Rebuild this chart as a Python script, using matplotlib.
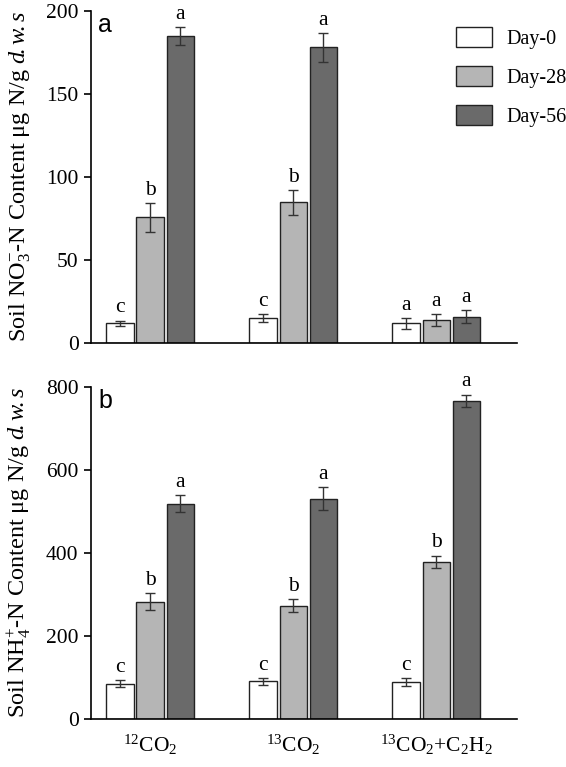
import matplotlib
matplotlib.use("Agg")
import matplotlib.pyplot as plt
import numpy as np

plt.rcParams['font.family'] = ['Liberation Serif', 'DejaVu Serif']
plt.rcParams['mathtext.fontset'] = 'custom'
plt.rcParams['mathtext.rm'] = 'Liberation Serif'
plt.rcParams['mathtext.it'] = 'Liberation Serif:italic'
plt.rcParams['mathtext.bf'] = 'Liberation Serif:bold'

categories = [r'$^{12}$CO$_2$', r'$^{13}$CO$_2$', r'$^{13}$CO$_2$+C$_2$H$_2$']
series = ['Day-0', 'Day-28', 'Day-56']
colors = ['#ffffff', '#b5b5b5', '#6a6a6a']

no3_vals = [[11.8, 14.9, 11.8], [75.7, 84.7, 13.9], [185.0, 178.0, 15.7]]
no3_err = [[1.6, 2.4, 3.2], [8.6, 7.5, 3.6], [5.3, 8.8, 3.9]]
no3_letters = [['c', 'c', 'a'], ['b', 'b', 'a'], ['a', 'a', 'a']]

nh4_vals = [[85, 91, 89], [283, 273, 379], [519, 531, 767]]
nh4_err = [[9, 8, 9], [20, 16, 14.5], [20, 28, 14.5]]
nh4_letters = [['c', 'c', 'c'], ['b', 'b', 'b'], ['a', 'a', 'a']]

fig = plt.figure(figsize=(5.66, 7.67), dpi=100)
ax1 = fig.add_axes([0.1608, 0.5528, 0.7527, 0.4329])
ax2 = fig.add_axes([0.1608, 0.0626, 0.7527, 0.4329])

x = np.arange(len(categories))
width = 0.19
offsets = [-0.21, 0.0, 0.21]

def draw(ax, vals, errs, letters, ymax, step, gap):
    handles = []
    for i in range(3):
        b = ax.bar(x + offsets[i], vals[i], width, color=colors[i], edgecolor='#222222',
                   linewidth=1.0, yerr=errs[i], capsize=3.5,
                   error_kw=dict(ecolor='#333333', elinewidth=1.0, capthick=1.0),
                   label=series[i], zorder=2)
        handles.append(b)
        for j in range(3):
            ax.text(x[j] + offsets[i], vals[i][j] + errs[i][j] + gap, letters[i][j],
                    ha='center', va='bottom', fontsize=15.5)
    ax.set_xlim(-0.413, 2.566)
    ax.set_ylim(0, ymax)
    ax.set_yticks(np.arange(0, ymax + 1, step))
    for s in ['top', 'right']:
        ax.spines[s].set_visible(False)
    for s in ['left', 'bottom']:
        ax.spines[s].set_linewidth(1.2)
    ax.tick_params(axis='y', direction='out', length=5, width=1.2, labelsize=15.5, pad=4)
    ax.tick_params(axis='x', length=0, labelsize=15.5, pad=10)
    return handles

h = draw(ax1, no3_vals, no3_err, no3_letters, 200, 50, 2)
draw(ax2, nh4_vals, nh4_err, nh4_letters, 800, 200, 8)

ax1.set_xticks([])
ax2.set_xticks(x)
ax2.set_xticklabels(categories)

ax1.set_ylabel(r'Soil NO$_3^{-}$-N Content μg N/g $d\!.w\!.s$', fontsize=17.5)
ax2.set_ylabel(r'Soil NH$_4^{+}$-N Content μg N/g $d\!.w\!.s$', fontsize=17.5)
ax1.yaxis.set_label_coords(-0.135, 0.5)
ax2.yaxis.set_label_coords(-0.135, 0.5)

ax1.text(0.017, 0.995, 'a', transform=ax1.transAxes, fontsize=18,
         family='Liberation Sans', ha='left', va='top')
ax2.text(0.017, 0.995, 'b', transform=ax2.transAxes, fontsize=18,
         family='Liberation Sans', ha='left', va='top')

fig.legend(handles=h, labels=series, loc='upper left', bbox_to_anchor=(0.805, 0.965),
           frameon=False, fontsize=14.5, handlelength=1.8, handleheight=1.15,
           labelspacing=0.85, handletextpad=0.7, borderaxespad=0, borderpad=0)

fig.savefig('out.png', dpi=100)
